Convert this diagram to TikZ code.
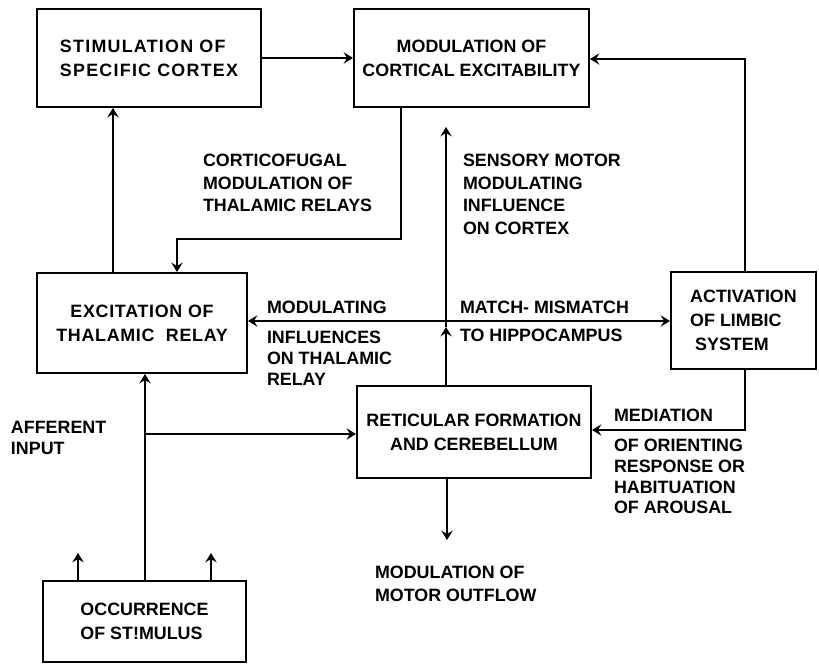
\documentclass[tikz,border=0pt]{standalone}
\usepackage{fontspec}
\setmainfont{Liberation Sans}
\usetikzlibrary{arrows.meta,positioning}

\begin{document}
\begin{tikzpicture}[x=0.75pt,y=-0.75pt,
  line width=1.5pt,
  box/.style={draw,rectangle,align=center,inner sep=0pt,
    font=\fontsize{13.4}{18}\selectfont\bfseries},
  lbl/.style={anchor=north west,align=left,inner sep=0pt,
    font=\fontsize{13.4}{16.8}\selectfont\bfseries},
  arr/.style={-{Stealth[length=7pt,width=8.5pt,inset=2.5pt]}},
  twoway/.style={{Stealth[length=7pt,width=8.5pt,inset=2.5pt]}-{Stealth[length=7pt,width=8.5pt,inset=2.5pt]}}]
\useasboundingbox (0,0) rectangle (819,664);
% Boxes
\node[box,align=left,minimum width=168pt,minimum height=73.5pt,
  font=\fontsize{13.4}{18}\selectfont\bfseries\addfontfeature{LetterSpace=7}] (stimcortex) at (149,58) {STIMULATION OF\\SPECIFIC CORTEX};
\node[box,minimum width=176.25pt,minimum height=73.5pt] (modcortex) at (471.5,58) {MODULATION OF\\CORTICAL EXCITABILITY};
\node[box,minimum width=157.5pt,minimum height=75pt,
  font=\fontsize{13.4}{18}\selectfont\bfseries\addfontfeature{LetterSpace=4}] (thalamic) at (142,323) {EXCITATION OF\\THALAMIC\ \ RELAY};
\node[box,align=left,minimum width=108.75pt,minimum height=72.75pt] (limbic) at (743.5,320.5) {ACTIVATION\\OF LIMBIC\\\ SYSTEM};
\node[box,minimum width=175.5pt,minimum height=69pt] (reticular) at (474,432) {RETICULAR FORMATION\\AND CEREBELLUM};
\node[box,align=left,minimum width=152.25pt,minimum height=60.75pt] (stimulus) at (144.5,621.5) {OCCURRENCE\\OF ST!MULUS};
% Labels
\node[lbl] (corticofugal) at (202,153.5) {CORTICOFUGAL\\MODULATION OF\\THALAMIC RELAYS};
\node[lbl] (sensorymotor) at (462,153.5) {SENSORY MOTOR\\MODULATING\\INFLUENCE\\ON CORTEX};
\node[lbl,font=\fontsize{13.4}{15.5}\selectfont\bfseries] (modinfl) at (266,300.5) {MODULATING\\[7pt]INFLUENCES\\ON THALAMIC\\RELAY};
\node[lbl,font=\fontsize{13.4}{21}\selectfont\bfseries] (hippo) at (459,300.5) {MATCH- MISMATCH\\TO HIPPOCAMPUS};
\node[lbl,font=\fontsize{13.4}{15.5}\selectfont\bfseries] (mediation) at (613,408.5) {MEDIATION\\[7pt]OF ORIENTING\\RESPONSE OR\\HABITUATION\\OF AROUSAL};
\node[lbl,font=\fontsize{13.4}{15.8}\selectfont\bfseries] (afferent) at (10,420.5) {AFFERENT\\INPUT};
\node[lbl] (motorout) at (374,565.5) {MODULATION OF\\MOTOR OUTFLOW};
% Bend and end points
\coordinate (cfBend) at (401,239);
\coordinate (cfDrop) at (177,239);
\coordinate (thUp) at (113,0);
\coordinate (affSplit) at (145,434);
\coordinate (stimL) at (78,553);
\coordinate (stimR) at (211,553);
\coordinate (smMid) at (446,327);
\coordinate (smTip) at (446,127);
\coordinate (hzLine) at (0,321);
\coordinate (limUp) at (745,59);
\coordinate (limDown) at (745,430);
\coordinate (motorTip) at (447,540);
% Connectors
\draw[arr] (stimcortex) -- (modcortex);
\draw[arr] (modcortex.south -| cfBend) -- (cfBend) -- (cfDrop) -- (thalamic.north -| cfDrop);
\draw[arr] (thalamic.north -| thUp) -- (stimcortex.south -| thUp);
\draw[arr] (stimulus.north -| affSplit) -- (thalamic.south -| affSplit);
\draw[arr] (affSplit) -- (reticular.west |- affSplit);
\draw[arr] (stimulus.north -| stimL) -- (stimL);
\draw[arr] (stimulus.north -| stimR) -- (stimR);
\draw[arr] (reticular.north -| smMid) -- (smMid);
\draw[arr] (smMid) -- (smTip);
\draw[twoway] (thalamic.east |- hzLine) -- (limbic.west |- hzLine);
\draw[arr] (limbic.north -| limUp) -- (limUp) -- (modcortex.east |- limUp);
\draw[arr] (limbic.south -| limDown) -- (limDown) -- (reticular.east |- limDown);
\draw[arr] (reticular.south -| motorTip) -- (motorTip);
\end{tikzpicture}
\end{document}
